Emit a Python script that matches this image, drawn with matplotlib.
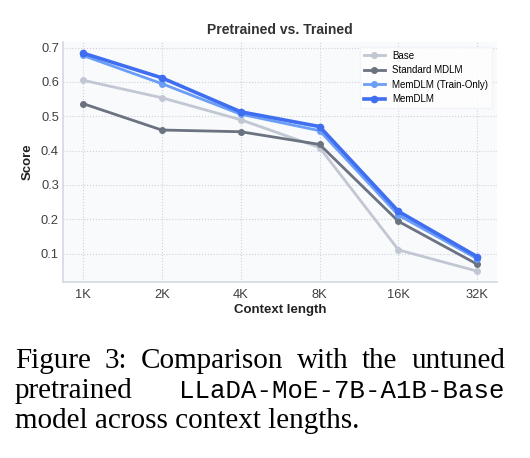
import numpy as np
import matplotlib
matplotlib.use('Agg')
import matplotlib.pyplot as plt

plt.rcParams['font.family'] = ['Liberation Sans', 'DejaVu Sans']

contexts = ['1K', '2K', '4K', '8K', '16K', '32K']
base = [0.605, 0.554, 0.490, 0.409, 0.111, 0.049]
standard_mdlm = [0.537, 0.460, 0.455, 0.418, 0.194, 0.069]
memdlm_train_only = [0.677, 0.595, 0.506, 0.458, 0.212, 0.085]
memdlm = [0.684, 0.612, 0.513, 0.470, 0.223, 0.091]

caption_1 = ['Figure', '3:', 'Comparison', 'with', 'the', 'untuned']
caption_2a = 'pretrained'
caption_2b = 'LLaDA-MoE-7B-A1B-Base'
caption_3 = 'model across context lengths.'

fig = plt.figure(figsize=(5.30, 4.58), dpi=100)
ax = fig.add_axes([0.119, 0.384, 0.819, 0.524])
ax.set_facecolor('#f9fafc')

x = np.arange(len(contexts))
ax.plot(x, base, color='#c1c7d3', lw=2.0, marker='o', ms=4, label='Base')
ax.plot(x, standard_mdlm, color='#6b7280', lw=2.0, marker='o', ms=4, label='Standard MDLM')
ax.plot(x, memdlm_train_only, color='#6b9ef6', lw=2.0, marker='o', ms=4, label='MemDLM (Train-Only)')
ax.plot(x, memdlm, color='#3f6ff0', lw=2.6, marker='o', ms=4.5, label='MemDLM')

ax.set_xticks(x)
ax.set_xticklabels(contexts)
ax.set_yticks([0.1, 0.2, 0.3, 0.4, 0.5, 0.6, 0.7])
ax.tick_params(length=0, labelsize=9.3, colors='#404040')
ax.tick_params(axis='x', pad=5)
ax.tick_params(axis='y', pad=3)
ax.grid(True, ls=':', color='#cdd2dc', lw=0.8)
for s in ['top', 'right']:
    ax.spines[s].set_visible(False)
for s in ['left', 'bottom']:
    ax.spines[s].set_color('#d3d8e2')
    ax.spines[s].set_linewidth(1.2)

ax.set_title('Pretrained vs. Trained', fontsize=10, fontweight='bold', color='#333333', pad=6)
ax.set_xlabel('Context length', fontsize=9.5, fontweight='bold', color='#222222', labelpad=2)
ax.set_ylabel('Score', fontsize=9.5, fontweight='bold', color='#222222', labelpad=5)

leg = ax.legend(loc='upper right', fontsize=7, frameon=True, handlelength=2.1,
                borderpad=0.4, labelspacing=0.45, fancybox=False)
leg.get_frame().set_facecolor('white')
leg.get_frame().set_edgecolor('#f2f3f6')

# caption, justified between left and right margins
left, right = 15 / 530, 505 / 530
fig.canvas.draw()
r = fig.canvas.get_renderer()
serif = dict(family='Liberation Serif', fontsize=21, color='black')

words = [fig.text(0, 0, w, va='baseline', **serif) for w in caption_1]
widths = [t.get_window_extent(r).width / fig.bbox.width for t in words]
gap = (right - left - sum(widths)) / (len(words) - 1)
pos = left
for t, w in zip(words, widths):
    t.set_position((pos, 1 - 368 / 458))
    pos += w + gap

fig.text(left, 1 - 398 / 458, caption_2a, va='baseline', **serif)
fig.text(right, 1 - 398 / 458, caption_2b, va='baseline', ha='right',
         family='Liberation Mono', fontsize=18.5, color='black')
fig.text(left, 1 - 428 / 458, caption_3, va='baseline', **serif)

fig.savefig('out.png', dpi=100)
